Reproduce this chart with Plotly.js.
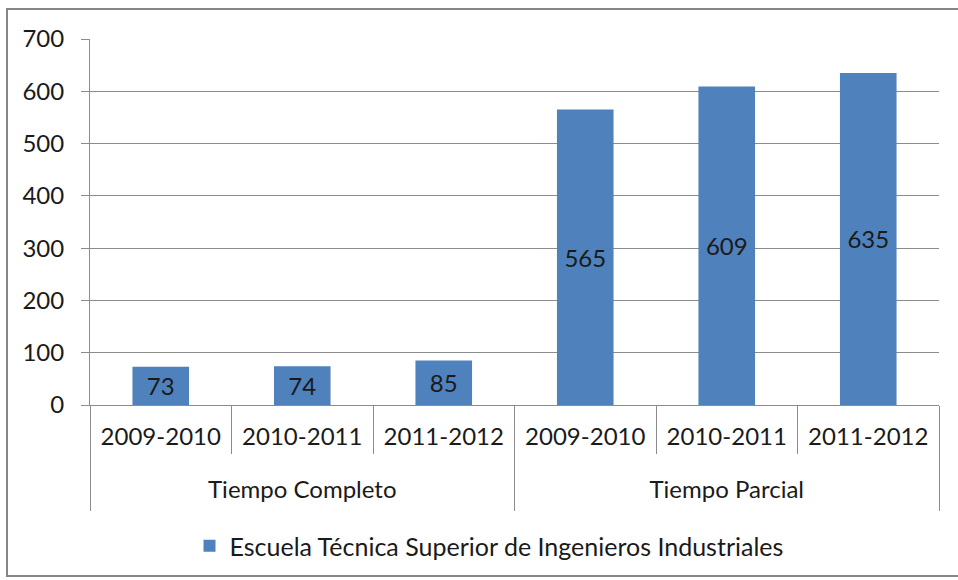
<!DOCTYPE html>
<html><head><meta charset="utf-8">
<script src="https://cdn.plot.ly/plotly-3.0.1.min.js"></script>
<style>
body{margin:0;background:#fff;}
#wrap{position:relative;width:958px;height:580px;overflow:hidden;}
#chart{width:958px;height:580px;}
#frame{position:absolute;left:6px;top:8px;width:980px;height:569px;border:2px solid #868686;pointer-events:none;box-sizing:border-box;}
</style></head>
<body><div id="wrap"><div id="chart"></div><div id="frame"></div></div>
<script>
const groups = ["Tiempo Completo","Tiempo Completo","Tiempo Completo","Tiempo Parcial","Tiempo Parcial","Tiempo Parcial"];
const years = ["2009-2010","2010-2011","2011-2012","2009-2010","2010-2011","2011-2012"];
const values = [73,74,85,565,609,635];
const seriesName = "Escuela Técnica Superior de Ingenieros Industriales";
const fontFam = "Lato, 'Open Sans', sans-serif";
const gridCol = "#8c8c8c";

// unique category keys built from the two levels
const keys = groups.map((g,i)=>g+" | "+years[i]);
const n = keys.length;
// group centres and boundaries
const groupNames = [...new Set(groups)];
const groupCentreKeys = groupNames.map(g=>{
  const idx = groups.map((v,i)=>v===g?i:-1).filter(i=>i>=0);
  return keys[idx[Math.floor(idx.length/2)]];
});
const groupBounds = [-0.5];
groups.forEach((g,i)=>{ if(i>0 && g!==groups[i-1]) groupBounds.push(i-0.5); });
groupBounds.push(n-0.5);

const trace = {
  type:"bar",
  x:keys,
  y:values,
  name:seriesName,
  showlegend:true,
  width:0.4,
  marker:{color:"#4F81BD", line:{width:0}},
  text:values.map(String),
  textposition:"inside",
  insidetextanchor:"middle",
  textangle:0,
  textfont:{family:fontFam, size:24, color:"#1a1a1a"},
  hoverinfo:"y"
};
// invisible helper traces so the group-label axis and group-divider axis are drawn
const helper2 = {type:"scatter", mode:"none", x:groupCentreKeys, y:groupCentreKeys.map(()=>null),
  xaxis:"x2", yaxis:"y", showlegend:false, hoverinfo:"skip"};
const helper3 = {type:"scatter", mode:"none", x:groupBounds, y:groupBounds.map(()=>null),
  xaxis:"x3", yaxis:"y", showlegend:false, hoverinfo:"skip"};

const tf = {family:fontFam, size:24, color:"#1a1a1a"};
const layout = {
  width:958, height:580,
  margin:{l:90, r:19, t:39, b:175},
  paper_bgcolor:"#fff", plot_bgcolor:"#fff",
  font:tf,
  xaxis:{
    type:"category", categoryorder:"array", categoryarray:keys,
    range:[-0.5, n-0.5], automargin:false,
    tickmode:"array", tickvals:keys, ticktext:years,
    showline:true, linecolor:gridCol, linewidth:1,
    ticks:"outside", tickson:"boundaries", ticklen:48, tickcolor:gridCol,
    ticklabelstandoff:10,
    showgrid:false, tickfont:tf
  },
  xaxis2:{
    type:"category", categoryorder:"array", categoryarray:keys,
    overlaying:"x", anchor:"y", side:"bottom",
    range:[-0.5, n-0.5], automargin:false,
    tickmode:"array", tickvals:groupCentreKeys, ticktext:groupNames,
    ticks:"", ticklabelstandoff:68, showline:false, showgrid:false, tickfont:tf
  },
  xaxis3:{
    type:"linear", overlaying:"x", anchor:"y", side:"bottom",
    range:[-0.5, n-0.5], automargin:false,
    tickmode:"array", tickvals:groupBounds, showticklabels:false,
    ticks:"outside", ticklen:105, tickcolor:gridCol,
    showline:false, showgrid:false, zeroline:false
  },
  yaxis:{
    automargin:false,
    range:[0,700], dtick:100, tick0:0,
    showgrid:true, gridcolor:gridCol, gridwidth:1,
    showline:true, linecolor:gridCol,
    ticks:"outside", ticklen:8, tickcolor:gridCol,
    ticklabelstandoff:12,
    tickfont:tf, zeroline:false
  },
  legend:{orientation:"h", x:0.5+10/958, xanchor:"center", xref:"container",
    y:34/580, yref:"container", yanchor:"middle",
    itemwidth:30,
    font:{family:fontFam, size:25, color:"#1a1a1a"}},
  bargap:0.6
};
Plotly.newPlot("chart",[trace, helper2, helper3],layout,{displayModeBar:false, staticPlot:true});
</script></body></html>
